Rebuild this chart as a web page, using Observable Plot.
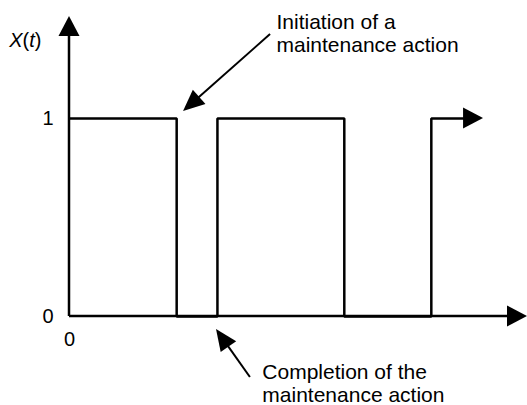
<!DOCTYPE html>
<html>
<head>
<meta charset="utf-8">
<script src="https://cdn.jsdelivr.net/npm/d3@7"></script>
<script src="https://cdn.jsdelivr.net/npm/@observablehq/plot@0.6"></script>
<style>
  html, body { margin: 0; padding: 0; background: #fff; }
  #chart svg { display: block; }
</style>
</head>
<body>
<div id="chart"></div>
<script>
// ---- data ----
// times at which the state X(t) changes (last entry: end of drawn segment)
const changeTimes = [0, 23.4, 32.3, 60.0, 79.0, 86.3];
const states      = [1, 0, 1, 0, 1, 1];
const yTicks = [0, 1];
const xTicks = [0];
const yAxisLabel = "X(t)";
// arrows: axes, continuation of the last up-state, annotation pointers
const arrowKinds = ["axis", "axis", "axis", "note", "note"];
const arrowX1 = [0, 0, 86.3, 43.9, 39.5];
const arrowY1 = [0, 0, 1, 1.424, -0.308];
const arrowX2 = [0, 100, 90.4, 24.9, 32.1];
const arrowY2 = [1.515, 0, 1, 1.035, -0.066];
const noteTexts = ["Initiation of a\nmaintenance action", "Completion of the\nmaintenance action"];
const noteX = [45.2, 42.1];
const noteY = [1.531, -0.237];
const labelX = [-6.0];
const labelY = [1.36];

// ---- tables ----
const steps = changeTimes.map((t, i) => ({t, v: states[i]}));
const arrows = arrowKinds.map((k, i) => ({kind: k, x1: arrowX1[i], y1: arrowY1[i], x2: arrowX2[i], y2: arrowY2[i]}));
const notes = noteTexts.map((s, i) => ({text: s, x: noteX[i], y: noteY[i]}));

const FONT = "'Liberation Sans', Arial, Helvetica, sans-serif";
const headStyle = {
  axis: {len: 20, half: 10.5, width: 2.5},
  note: {len: 21.5, half: 9.5, width: 2}
};

function arrowMark(index, scales) {
  const g = d3.create("svg:g");
  for (const a of arrows) {
    const s = headStyle[a.kind];
    const x1 = scales.x(a.x1), y1 = scales.y(a.y1);
    const x2 = scales.x(a.x2), y2 = scales.y(a.y2);
    const dx = x2 - x1, dy = y2 - y1, L = Math.hypot(dx, dy);
    const ux = dx / L, uy = dy / L;
    const bx = x2 - ux * s.len, by = y2 - uy * s.len;
    g.append("line")
      .attr("x1", x1).attr("y1", y1).attr("x2", bx + ux).attr("y2", by + uy)
      .attr("stroke", "black").attr("stroke-width", s.width);
    g.append("path")
      .attr("d", `M${x2},${y2}L${bx - uy * s.half},${by + ux * s.half}L${bx + uy * s.half},${by - ux * s.half}Z`)
      .attr("fill", "black");
  }
  return g.node();
}

function labelMark(index, scales) {
  const t = d3.create("svg:text")
    .attr("x", scales.x(labelX[0])).attr("y", scales.y(labelY[0]))
    .attr("text-anchor", "end")
    .attr("font-family", FONT).attr("font-size", 20).attr("fill", "black");
  // "X(t)" with italic X and t
  const parts = [["X", true], ["(", false], ["t", true], [")", false]];
  for (const [p, it] of parts) t.append("tspan").attr("font-style", it ? "italic" : "normal").text(p);
  return t.node();
}

const chart = Plot.plot({
  width: 527,
  height: 405,
  marginLeft: 69,
  marginRight: 0,
  marginTop: 16,
  marginBottom: 89,
  style: {fontFamily: FONT, fontSize: "20px", background: "white", color: "black", overflow: "visible"},
  x: {domain: [0, 100], ticks: xTicks, tickSize: 0, tickPadding: 15, tickFormat: "d", label: null},
  y: {domain: [0, 1.515], ticks: yTicks, tickSize: 0, tickPadding: 16, tickFormat: "d", label: null},
  marks: [
    Plot.line(steps, {x: "t", y: "v", curve: "step-after", stroke: "black", strokeWidth: 2.5,
      strokeLinejoin: "miter", strokeLinecap: "butt"}),
    arrowMark,
    labelMark,
    Plot.text(notes, {x: "x", y: "y", text: "text", textAnchor: "start", lineAnchor: "top",
      lineHeight: 1.07, fontSize: 21, fill: "black"})
  ]
});
document.getElementById("chart").appendChild(chart);
</script>
</body>
</html>
